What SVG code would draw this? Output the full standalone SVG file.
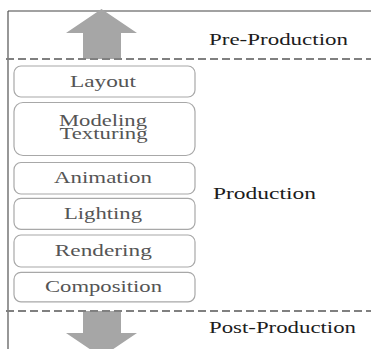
<svg xmlns="http://www.w3.org/2000/svg" width="371" height="349" viewBox="0 0 371 349">
<style>
.box{fill:#fff;stroke:#a8a8a8;stroke-width:1.2}
.bt{fill:#555;text-anchor:middle}
.ht{fill:#1c1c1c}
.dash{stroke:#808080;stroke-width:2.2;stroke-dasharray:8 4;fill:none}
.arrow{fill:#a6a6a6}
.frame{stroke:#444;stroke-width:1.1;fill:none}
</style>
<rect width="371" height="349" fill="#fff"/>
<g id="frame">
<path class="frame" d="M8 11H371M8 11V349"/>
</g>
<g id="arrow-up"><polygon class="arrow" points="101.5,9 137,33 121,33 121,59 83,59 83,33 66,33"/></g>
<g id="arrow-down"><polygon class="arrow" points="83,311 121,311 121,333 137,333 101.5,357 66,333 83,333"/></g>
<g id="connectors">
<path class="dash" d="M6 59H371"/>
<path class="dash" d="M6 311H371"/>
</g>
<g id="pre-production"><text class="ht" font-family="Liberation Serif, serif" font-size="17.5" x="209" y="44.5" textLength="139" lengthAdjust="spacingAndGlyphs">Pre-Production</text></g>
<g id="production"><text class="ht" font-family="Liberation Serif, serif" font-size="17.5" x="213" y="199" textLength="103" lengthAdjust="spacingAndGlyphs">Production</text></g>
<g id="post-production"><text class="ht" font-family="Liberation Serif, serif" font-size="17.5" x="209" y="333" textLength="147" lengthAdjust="spacingAndGlyphs">Post-Production</text></g>
<g id="layout"><rect class="box" x="14" y="66" width="181" height="31" rx="7"/><text class="bt" font-family="Liberation Serif, serif" font-size="17" x="103" y="87" textLength="66" lengthAdjust="spacingAndGlyphs">Layout</text></g>
<g id="modeling-texturing"><rect class="box" x="14" y="102.5" width="181" height="53" rx="9"/><text class="bt" font-family="Liberation Serif, serif" font-size="16" x="103" y="125.5" textLength="88" lengthAdjust="spacingAndGlyphs">Modeling</text><text class="bt" font-family="Liberation Serif, serif" font-size="16" x="103.5" y="138.5" textLength="88" lengthAdjust="spacingAndGlyphs">Texturing</text></g>
<g id="animation"><rect class="box" x="14" y="162.5" width="181" height="31.5" rx="7"/><text class="bt" font-family="Liberation Serif, serif" font-size="17" x="103" y="182.7" textLength="98" lengthAdjust="spacingAndGlyphs">Animation</text></g>
<g id="lighting"><rect class="box" x="14" y="198.3" width="181" height="31" rx="7"/><text class="bt" font-family="Liberation Serif, serif" font-size="17" x="103" y="219.3" textLength="78" lengthAdjust="spacingAndGlyphs">Lighting</text></g>
<g id="rendering"><rect class="box" x="14" y="235" width="181" height="32" rx="7"/><text class="bt" font-family="Liberation Serif, serif" font-size="17" x="103.3" y="256" textLength="97" lengthAdjust="spacingAndGlyphs">Rendering</text></g>
<g id="composition"><rect class="box" x="14" y="272.3" width="181" height="29.5" rx="7"/><text class="bt" font-family="Liberation Serif, serif" font-size="17" x="103.5" y="292.3" textLength="117" lengthAdjust="spacingAndGlyphs">Composition</text></g>
</svg>
